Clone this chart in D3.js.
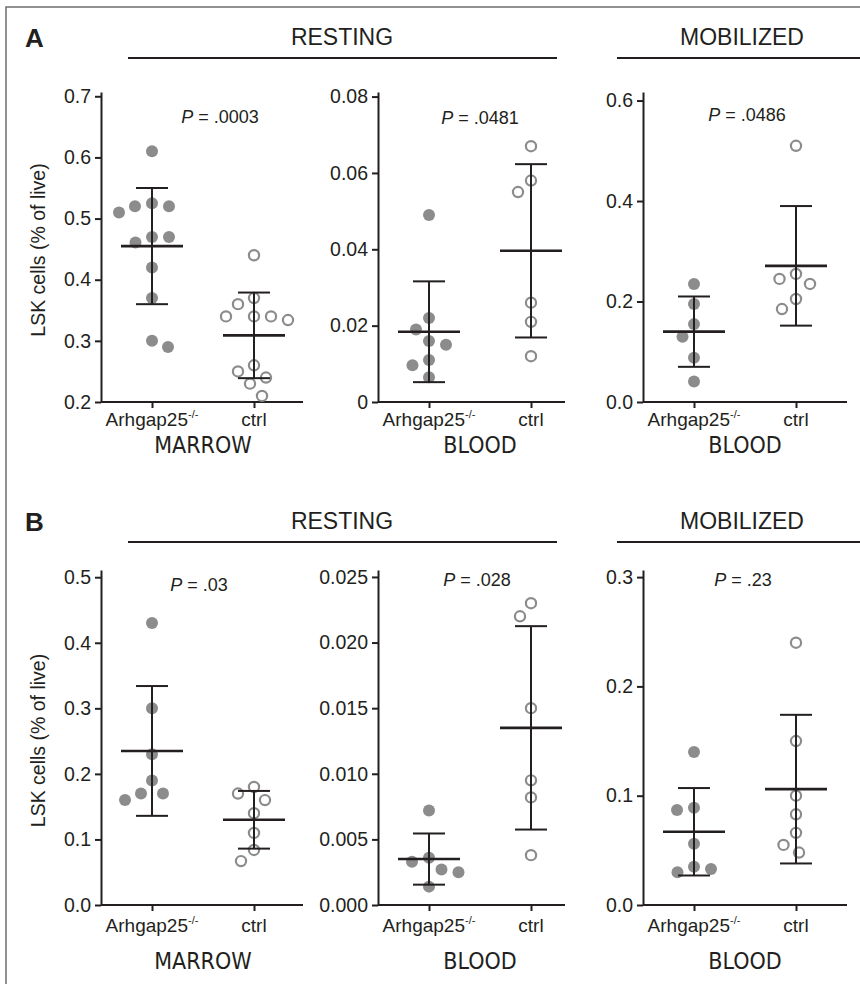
<!DOCTYPE html>
<html>
<head>
<meta charset="utf-8">
<script src="https://cdn.jsdelivr.net/npm/d3@7"></script>
<style>
body { margin: 0; background: #fff; }
svg text { font-family: "Liberation Sans", Arial, sans-serif; fill: #231f20; }
</style>
</head>
<body>
<div id="chart"></div>
<script>
// ---- data ----
const panelLetters = ["A", "B"];
const conditions = ["RESTING", "MOBILIZED"];
const groupNames = ["Arhgap25", "ctrl"];
const tissueNames = ["MARROW", "BLOOD", "BLOOD"];
const yTitle = "LSK cells (% of live)";

// A: marrow (resting), blood (resting), blood (mobilized)
const a1Ko = [0.61, 0.525, 0.52, 0.52, 0.51, 0.47, 0.47, 0.461, 0.42, 0.37, 0.30, 0.29];
const a1Ctrl = [0.44, 0.37, 0.36, 0.34, 0.334, 0.34, 0.34, 0.26, 0.25, 0.24, 0.23, 0.21];
const a1Mean = [0.455, 0.309];
const a1Sd = [0.095, 0.07];
const a2Ko = [0.049, 0.022, 0.019, 0.016, 0.015, 0.011, 0.0096, 0.0065];
const a2Ctrl = [0.067, 0.058, 0.055, 0.026, 0.021, 0.012];
const a2Mean = [0.0184, 0.0396];
const a2Sd = [0.0132, 0.0227];
const a3Ko = [0.235, 0.195, 0.155, 0.13, 0.088, 0.041];
const a3Ctrl = [0.51, 0.255, 0.245, 0.235, 0.205, 0.185];
const a3Mean = [0.14, 0.271];
const a3Sd = [0.07, 0.119];

// B
const b1Ko = [0.43, 0.30, 0.23, 0.19, 0.17, 0.17, 0.16];
const b1Ctrl = [0.18, 0.17, 0.16, 0.14, 0.11, 0.084, 0.067];
const b1Mean = [0.235, 0.13];
const b1Sd = [0.099, 0.044];
const b2Ko = [0.0072, 0.0036, 0.0033, 0.0027, 0.0025, 0.0014];
const b2Ctrl = [0.023, 0.022, 0.015, 0.0095, 0.0082, 0.0038];
const b2Mean = [0.0035, 0.0135];
const b2Sd = [0.00195, 0.00775];
const b3Ko = [0.14, 0.089, 0.087, 0.056, 0.035, 0.033, 0.030];
const b3Ctrl = [0.24, 0.15, 0.10, 0.083, 0.066, 0.055, 0.048];
const b3Mean = [0.067, 0.106];
const b3Sd = [0.04, 0.068];

const pValues = [".0003", ".0481", ".0486", ".03", ".028", ".23"];

const a1Ticks = [0.2, 0.3, 0.4, 0.5, 0.6, 0.7];
const a1TickLabels = ["0.2", "0.3", "0.4", "0.5", "0.6", "0.7"];
const a2Ticks = [0, 0.02, 0.04, 0.06, 0.08];
const a2TickLabels = ["0", "0.02", "0.04", "0.06", "0.08"];
const a3Ticks = [0, 0.2, 0.4, 0.6];
const a3TickLabels = ["0.0", "0.2", "0.4", "0.6"];
const b1Ticks = [0, 0.1, 0.2, 0.3, 0.4, 0.5];
const b1TickLabels = ["0.0", "0.1", "0.2", "0.3", "0.4", "0.5"];
const b2Ticks = [0, 0.005, 0.01, 0.015, 0.02, 0.025];
const b2TickLabels = ["0.000", "0.005", "0.010", "0.015", "0.020", "0.025"];
const b3Ticks = [0, 0.1, 0.2, 0.3];
const b3TickLabels = ["0.0", "0.1", "0.2", "0.3"];

// top end of each y axis line
const axisTops = [0.707, 0.0812, 0.617, 0.511, 0.02553, 0.3065];

const plots = [
    {ko: a1Ko, ctrl: a1Ctrl, mean: a1Mean, sd: a1Sd, ticks: a1Ticks, labels: a1TickLabels},
    {ko: a2Ko, ctrl: a2Ctrl, mean: a2Mean, sd: a2Sd, ticks: a2Ticks, labels: a2TickLabels},
    {ko: a3Ko, ctrl: a3Ctrl, mean: a3Mean, sd: a3Sd, ticks: a3Ticks, labels: a3TickLabels},
    {ko: b1Ko, ctrl: b1Ctrl, mean: b1Mean, sd: b1Sd, ticks: b1Ticks, labels: b1TickLabels},
    {ko: b2Ko, ctrl: b2Ctrl, mean: b2Mean, sd: b2Sd, ticks: b2Ticks, labels: b2TickLabels},
    {ko: b3Ko, ctrl: b3Ctrl, mean: b3Mean, sd: b3Sd, ticks: b3Ticks, labels: b3TickLabels}
];

// ---- layout ----
const W = 860, H = 984;
const ink = "#231f20", dotGrey = "#8c8c8c";
const colX = [101, 378, 643];
const xLen = 204;
const axisLen = [202, 187, 204];
const pOffset = [119, 102, 104, 98, 99, 100];
const panels = [
    {letterY: 47, headY: 45, lineY: 58, top: 92, bottom: 402, pY: [123, 124, 121], labY: 24, tisY: 51},
    {letterY: 531, headY: 529, lineY: 542, top: 570, bottom: 905, pY: [591, 586, 586], labY: 27, tisY: 64}
];

let svg = d3.select("#chart")
    .append("svg")
    .attr("width", W)
    .attr("height", H);

// frame
svg.append("path")
    .attr("d", "M6," + H + "V7H" + W)
    .attr("fill", "none")
    .attr("stroke", "#6d6d6d")
    .attr("stroke-width", 1.5);

// simple beeswarm: place points top-down at the nearest free horizontal offset
function swarm(vals, y, minD) {
    let order = vals.map((v, i) => i).sort((a, b) => vals[b] - vals[a]);
    let placed = [];
    let out = new Array(vals.length);
    let lastSide = 1;
    order.forEach(function(i) {
        let py = y(vals[i]);
        let ok = function(dx) {
            return placed.every(p => (p.x - dx) * (p.x - dx) + (p.y - py) * (p.y - py) >= minD * minD - 0.01);
        };
        let dx = 0;
        if (!ok(0)) {
            for (let m = 0.5; m < 200; m += 0.5) {
                let s = -lastSide;
                if (ok(s * m)) { dx = s * m; lastSide = s; break; }
                if (ok(-s * m)) { dx = -s * m; lastSide = -s; break; }
            }
        }
        placed.push({x: dx, y: py});
        out[i] = dx;
    });
    return out;
}

panels.forEach(function(P, pi) {
    let head = svg.append("g");
    head.append("text")
        .attr("x", 25).attr("y", P.letterY)
        .style("font-size", "26px").style("font-weight", "bold")
        .text(panelLetters[pi]);
    // condition headers with rule lines
    [[128, 557, conditions[0], 342], [617, W, conditions[1], 742]].forEach(function(h) {
        head.append("line")
            .attr("x1", h[0]).attr("x2", h[1])
            .attr("y1", P.lineY).attr("y2", P.lineY)
            .attr("stroke", ink).attr("stroke-width", 2);
        head.append("text")
            .attr("x", h[3])
            .attr("y", P.headY)
            .attr("text-anchor", "middle")
            .style("font-size", "23px")
            .text(h[2]);
    });
    // y title
    svg.append("text")
        .attr("transform", "translate(45," + ((P.top + P.bottom) / 2 + 3) + ") rotate(-90)")
        .attr("text-anchor", "middle")
        .style("font-size", "19.5px")
        .text(yTitle);

    for (let c = 0; c < 3; c++) {
        let k = pi * 3 + c;
        let d = plots[k];
        let g = svg.append("g").attr("transform", "translate(" + colX[c] + ",0)");

        let y = d3.scaleLinear()
            .domain([d.ticks[0], axisTops[k]])
            .range([P.bottom, P.top]);
        let x = d3.scalePoint()
            .domain(groupNames)
            .range([0, xLen])
            .padding(0.5);

        let yAxis = g.append("g")
            .attr("class", "axis y-axis")
            .call(d3.axisLeft(y)
                .tickValues(d.ticks)
                .tickFormat((v, i) => d.labels[i])
                .tickSize(6).tickSizeOuter(0).tickPadding(4));
        let xAxis = g.append("g")
            .attr("class", "axis x-axis")
            .attr("transform", "translate(0," + P.bottom + ")")
            .call(d3.axisBottom(x).tickFormat("").tickSize(6).tickSizeOuter(0));
        xAxis.select(".domain").attr("d", "M0,0H" + axisLen[c]);
        g.selectAll(".axis path, .axis line")
            .attr("stroke", ink).attr("stroke-width", 2);
        yAxis.selectAll("text")
            .attr("fill", ink)
            .style("font-size", "19.5px")
            .style("font-family", "'Liberation Sans', Arial, sans-serif");

        // category labels
        let lab = g.append("text")
            .attr("x", x(groupNames[0]))
            .attr("y", P.bottom + P.labY)
            .attr("text-anchor", "middle")
            .style("font-size", "19px");
        lab.append("tspan").text(groupNames[0]);
        lab.append("tspan")
            .attr("dy", -8)
            .style("font-size", "11px")
            .text("-/-");
        g.append("text")
            .attr("x", x(groupNames[1]))
            .attr("y", P.bottom + P.labY)
            .attr("text-anchor", "middle")
            .style("font-size", "19px")
            .text(groupNames[1]);
        g.append("text")
            .attr("x", xLen / 2)
            .attr("y", P.bottom + P.tisY)
            .attr("text-anchor", "middle")
            .style("font-size", "23px")
            .style("font-family", "'Liberation Sans Narrow', 'DejaVu Sans Condensed', Arial, sans-serif")
            .text(tissueNames[c]);

        // P value
        let pt = g.append("text")
            .attr("x", pOffset[k])
            .attr("y", P.pY[c])
            .attr("text-anchor", "middle")
            .style("font-size", "18px");
        pt.append("tspan").style("font-style", "italic").text("P");
        pt.append("tspan").text(" = " + pValues[k]);

        // dots
        let koDx = swarm(d.ko, y, 17);
        let ctrlDx = swarm(d.ctrl, y, 17);
        g.append("g").selectAll("circle")
            .data(d.ko)
            .enter()
            .append("circle")
            .attr("cx", (v, i) => x(groupNames[0]) + koDx[i])
            .attr("cy", v => y(v))
            .attr("r", 6)
            .attr("fill", dotGrey);
        g.append("g").selectAll("circle")
            .data(d.ctrl)
            .enter()
            .append("circle")
            .attr("cx", (v, i) => x(groupNames[1]) + ctrlDx[i])
            .attr("cy", v => y(v))
            .attr("r", 5.1)
            .attr("fill", "#fff")
            .attr("stroke", dotGrey)
            .attr("stroke-width", 2.2);

        // mean +/- sd
        groupNames.forEach(function(gn, gi) {
            let cx = x(gn);
            let m = d.mean[gi], s = d.sd[gi];
            let bars = g.append("g").attr("stroke", ink);
            bars.append("line")
                .attr("x1", cx).attr("x2", cx)
                .attr("y1", y(m - s)).attr("y2", y(m + s))
                .attr("stroke-width", 2);
            [m - s, m + s].forEach(function(v) {
                bars.append("line")
                    .attr("x1", cx - 16).attr("x2", cx + 16)
                    .attr("y1", y(v)).attr("y2", y(v))
                    .attr("stroke-width", 2);
            });
            bars.append("line")
                .attr("x1", cx - 31).attr("x2", cx + 31)
                .attr("y1", y(m)).attr("y2", y(m))
                .attr("stroke-width", 2.6);
        });
    }
});
</script>
</body>
</html>
